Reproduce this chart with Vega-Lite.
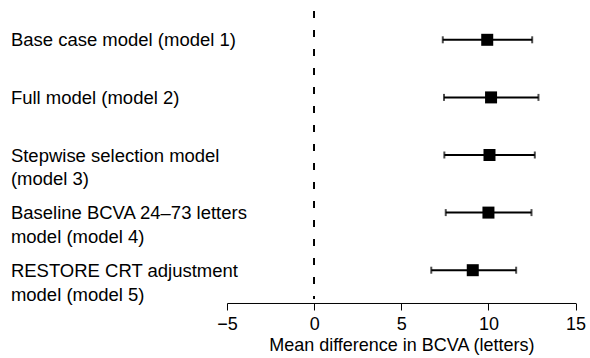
{
  "$schema": "https://vega.github.io/schema/vega-lite/v6.json",
  "width": 348.6,
  "height": 288,
  "padding": {"left": 10, "top": 10, "right": 5, "bottom": 0},
  "background": "white",
  "config": {
    "view": {"stroke": null},
    "font": "Liberation Sans",
    "axis": {"grid": false, "labelFont": "Liberation Sans", "titleFont": "Liberation Sans", "labelColor": "black", "titleColor": "black", "domainColor": "black", "tickColor": "black"}
  },
  "data": {
    "values": [
      {"model": "Base case model (model 1)", "mean": 9.93, "lower": 7.38, "upper": 12.51},
      {"model": "Full model (model 2)", "mean": 10.15, "lower": 7.45, "upper": 12.87},
      {"model": "Stepwise selection model|(model 3)", "mean": 10.06, "lower": 7.47, "upper": 12.66},
      {"model": "Baseline BCVA 24–73 letters|model (model 4)", "mean": 10.0, "lower": 7.55, "upper": 12.47},
      {"model": "RESTORE CRT adjustment|model (model 5)", "mean": 9.1, "lower": 6.72, "upper": 11.59}
    ]
  },
  "encoding": {
    "y": {
      "field": "model",
      "type": "nominal",
      "sort": null,
      "scale": {"type": "point", "padding": 0.5},
      "axis": {
        "title": null,
        "domain": false,
        "ticks": false,
        "tickSize": 0,
        "labelAlign": "left",
        "labelBaseline": "middle",
        "labelPadding": 216.6,
        "labelFontSize": 18.5,
        "labelLineHeight": 24,
        "labelLimit": 400,
        "labelExpr": "split(datum.label, '|')"
      }
    }
  },
  "layer": [
    {
      "mark": {"type": "rule", "strokeDash": [7, 12], "strokeWidth": 1.3, "color": "black"},
      "encoding": {"x": {"datum": 0, "type": "quantitative"}, "y": null}
    },
    {
      "mark": {"type": "rule", "strokeWidth": 2, "color": "black"},
      "encoding": {
        "x": {
          "field": "lower",
          "type": "quantitative",
          "scale": {"domain": [-5, 15], "nice": false, "zero": false},
          "axis": {
            "values": [-5, 0, 5, 10, 15],
            "title": "Mean difference in BCVA (letters)",
            "titleFontSize": 18,
            "titleFontWeight": "normal",
            "titlePadding": 3,
            "labelFontSize": 18,
            "tickSize": 7,
            "labelPadding": 6,
            "offset": 4,
            "labelFlush": false,
            "labelOverlap": false
          }
        },
        "x2": {"field": "upper"}
      }
    },
    {
      "mark": {"type": "tick", "orient": "vertical", "thickness": 2, "size": 7, "color": "black"},
      "encoding": {"x": {"field": "lower", "type": "quantitative"}}
    },
    {
      "mark": {"type": "tick", "orient": "vertical", "thickness": 2, "size": 7, "color": "black"},
      "encoding": {"x": {"field": "upper", "type": "quantitative"}}
    },
    {
      "mark": {"type": "point", "shape": "square", "filled": true, "size": 144, "color": "black", "opacity": 1},
      "encoding": {"x": {"field": "mean", "type": "quantitative"}}
    }
  ]
}
